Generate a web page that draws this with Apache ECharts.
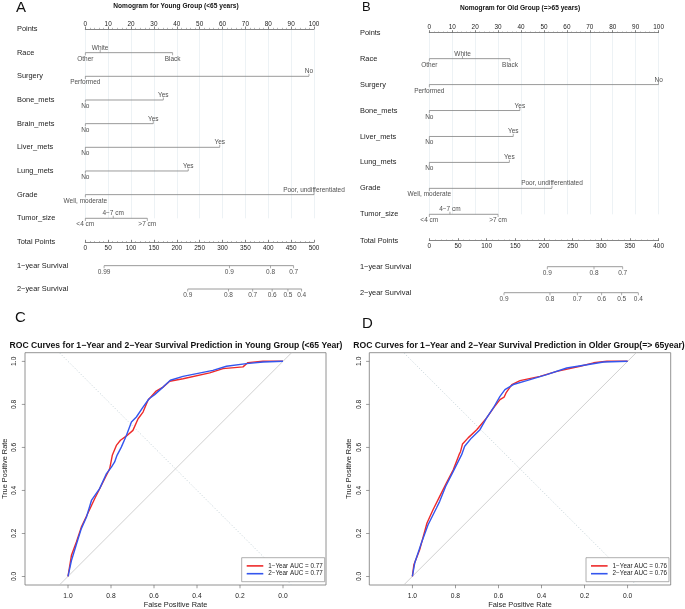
<!DOCTYPE html>
<html><head><meta charset="utf-8">
<script src="https://cdn.jsdelivr.net/npm/echarts@6/dist/echarts.min.js"></script>
<style>html,body{margin:0;padding:0;background:#fff}#c{width:685px;height:609px}</style>
</head><body><div id="c"></div>
<script>
const FONT = '"Liberation Sans", Arial, Helvetica, sans-serif';
const TXT = '#222';
const AX = '#666';
const LINE = '#808080';
const GRIDC = '#e9eff3';

// ---- Panel A: nomogram, young group (points per level) ----
const youngRowLabels = ['Points','Race','Surgery','Bone_mets','Brain_mets','Liver_mets','Lung_mets','Grade','Tumor_size'];
const youngRace = [['Other',0],['White',6.5],['Black',38.2]];
const youngSurgery = [['Performed',0],['No',97.8]];
const youngBone = [['No',0],['Yes',34.1]];
const youngBrain = [['No',0],['Yes',29.7]];
const youngLiver = [['No',0],['Yes',58.8]];
const youngLung = [['No',0],['Yes',45.0]];
const youngGrade = [['Well, moderate',0],['Poor, undifferentiated',100]];
const youngTumor = [['<4 cm',0],['4\u22127 cm',12.2],['>7 cm',27.1]];
const youngTotalMax = 500;
const youngBottomLabels = ['Total Points','1\u2212year Survival','2\u2212year Survival'];
const youngSurv1 = [['0.99',41],['0.9',315],['0.8',405],['0.7',455.5]];
const youngSurv2 = [['0.9',224],['0.8',313],['0.7',366],['0.6',408.5],['0.5',443],['0.4',473]];

// ---- Panel B: nomogram, old group ----
const oldRowLabels = ['Points','Race','Surgery','Bone_mets','Liver_mets','Lung_mets','Grade','Tumor_size'];
const oldRace = [['Other',0],['White',14.5],['Black',35.2]];
const oldSurgery = [['Performed',0],['No',100]];
const oldBone = [['No',0],['Yes',39.5]];
const oldLiver = [['No',0],['Yes',36.6]];
const oldLung = [['No',0],['Yes',34.9]];
const oldGrade = [['Well, moderate',0],['Poor, undifferentiated',53.5]];
const oldTumor = [['<4 cm',0],['4\u22127 cm',9.0],['>7 cm',30.0]];
const oldTotalMax = 400;
const oldBottomLabels = ['Total Points','1\u2212year Survival','2\u2212year Survival'];
const oldSurv1 = [['0.9',205.8],['0.8',287.3],['0.7',337.4]];
const oldSurv2 = [['0.9',130.3],['0.8',210.5],['0.7',258.2],['0.6',300.7],['0.5',335.6],['0.4',364.6]];

// ---- Panels C/D: ROC curves, [specificity, sensitivity] ----
const rocYoung1 = [[1,0],[0.984,0.098],[0.961,0.16],[0.938,0.229],[0.912,0.284],[0.876,0.361],[0.837,0.439],[0.806,0.501],[0.794,0.563],[0.775,0.609],[0.756,0.633],[0.728,0.653],[0.698,0.679],[0.674,0.733],[0.651,0.764],[0.628,0.819],[0.592,0.86],[0.558,0.88],[0.527,0.907],[0.465,0.919],[0.341,0.946],[0.279,0.966],[0.186,0.974],[0.163,0.994],[0.093,1.0],[0,1]];
const rocYoung2 = [[1,0],[0.984,0.074],[0.953,0.175],[0.938,0.222],[0.914,0.276],[0.891,0.353],[0.853,0.408],[0.821,0.478],[0.798,0.508],[0.783,0.532],[0.772,0.563],[0.752,0.601],[0.728,0.656],[0.705,0.718],[0.682,0.741],[0.651,0.787],[0.623,0.826],[0.597,0.845],[0.558,0.88],[0.524,0.912],[0.465,0.93],[0.326,0.958],[0.263,0.977],[0.17,0.989],[0.093,0.997],[0,1]];
const rocOld1 = [[1,0],[0.993,0.054],[0.966,0.124],[0.932,0.248],[0.904,0.31],[0.873,0.372],[0.842,0.434],[0.81,0.496],[0.783,0.566],[0.776,0.581],[0.767,0.616],[0.741,0.644],[0.701,0.682],[0.655,0.737],[0.621,0.786],[0.593,0.822],[0.574,0.833],[0.565,0.853],[0.538,0.892],[0.5,0.91],[0.407,0.93],[0.329,0.953],[0.221,0.977],[0.158,0.993],[0.096,1.0],[0,1]];
const rocOld2 = [[1,0],[0.989,0.062],[0.958,0.155],[0.927,0.24],[0.888,0.318],[0.873,0.349],[0.845,0.419],[0.81,0.488],[0.771,0.566],[0.757,0.605],[0.725,0.644],[0.686,0.682],[0.655,0.737],[0.624,0.783],[0.593,0.837],[0.57,0.868],[0.531,0.892],[0.469,0.91],[0.376,0.938],[0.283,0.969],[0.189,0.984],[0.112,0.997],[0,1]];
const rocNamesYoung = ['1\u2212Year AUC = 0.77','2\u2212Year AUC = 0.77'];
const rocNamesOld = ['1\u2212Year AUC = 0.76','2\u2212Year AUC = 0.76'];
const rocTicks = [0,0.2,0.4,0.6,0.8,1];
const rocXRange = [-0.2, 1.2];
const rocYRange = [-0.04, 1.04];

// ---------------- builders ----------------
function rowSeries(gi, rows, startRow, alternate) {
  const out = [], ticks = [], labels = [];
  rows.forEach((lv, k) => {
    const r = startRow + k;
    const xs = lv.map(d => d[1]);
    out.push({type:'line', xAxisIndex:gi, yAxisIndex:gi, clip:false, silent:true,
      data:[[Math.min(...xs), r],[Math.max(...xs), r]], symbol:'none',
      lineStyle:{color:LINE, width:0.8}});
    lv.forEach((d, i) => {
      const up = alternate && (i % 2 === 1);
      ticks.push({value:[d[1], r], symbolOffset:[0, up ? -1.3 : 1.3]});
      labels.push({name:d[0], value:[d[1], r], label:{position: up ? 'top' : 'bottom', distance: up ? 0.8 : 2.2}});
    });
  });
  out.push({type:'scatter', xAxisIndex:gi, yAxisIndex:gi, clip:false, silent:true,
    symbol:'rect', symbolSize:[0.8, 2.6], itemStyle:{color:LINE}, data:ticks});
  out.push({type:'scatter', xAxisIndex:gi, yAxisIndex:gi, clip:false, silent:true,
    symbol:'circle', symbolSize:1, itemStyle:{color:'rgba(0,0,0,0)'},
    label:{show:true, formatter:p => p.name, fontSize:6.5, color:TXT, fontFamily:FONT},
    data:labels});
  return out;
}

function nomoAxes(giTop, giBot, rowLabels, bottomLabels, totalMax, labelMargin) {
  const xs = [], ys = [];
  xs.push({gridIndex:giTop, type:'value', min:0, max:100, interval:10, position:'top',
    axisLine:{show:true, onZero:false, lineStyle:{color:AX, width:0.8}},
    axisTick:{show:true, length:2.5, lineStyle:{color:AX, width:0.8}},
    minorTick:{show:true, splitNumber:5, length:1.2, lineStyle:{color:'#888', width:0.6}},
    axisLabel:{fontSize:6.4, margin:2, color:TXT, fontFamily:FONT},
    splitLine:{show:true, lineStyle:{color:GRIDC, width:0.8}}});
  ys.push({gridIndex:giTop, type:'value', min:0, max:rowLabels.length-1, interval:1, inverse:true,
    axisLine:{show:false, onZero:false}, axisTick:{show:false}, splitLine:{show:false},
    axisLabel:{formatter:v => rowLabels[v] || '', align:'left', margin:labelMargin, fontSize:7.4, color:TXT, fontFamily:FONT}});
  xs.push({gridIndex:giBot, type:'value', min:0, max:totalMax, interval:50, position:'top',
    axisLine:{show:true, onZero:false, lineStyle:{color:AX, width:0.8}},
    axisTick:{show:true, length:2.5, lineStyle:{color:AX, width:0.8}},
    minorTick:{show:true, splitNumber:5, length:1.2, lineStyle:{color:'#888', width:0.6}},
    axisLabel:{inside:true, fontSize:6.4, margin:2.5, color:TXT, fontFamily:FONT},
    splitLine:{show:false}});
  ys.push({gridIndex:giBot, type:'value', min:0, max:2, interval:1, inverse:true,
    axisLine:{show:false, onZero:false}, axisTick:{show:false}, splitLine:{show:false},
    axisLabel:{formatter:v => bottomLabels[v] || '', align:'left', margin:labelMargin, fontSize:7.4, color:TXT, fontFamily:FONT}});
  return {xs, ys};
}

function rocAxes(gi) {
  return {
    x:{gridIndex:gi, type:'value', min:rocXRange[0], max:rocXRange[1], inverse:true, position:'bottom',
      axisLine:{show:false, onZero:false},
      axisTick:{show:false},
      axisLabel:{customValues:rocTicks, formatter:v => v.toFixed(1), margin:7.5, fontSize:6.7, color:TXT, fontFamily:FONT},
      splitLine:{show:false},
      name:'False Positive Rate', nameLocation:'middle', nameGap:16,
      nameTextStyle:{fontSize:7.4, color:TXT, fontFamily:FONT}},
    y:{gridIndex:gi, type:'value', min:rocYRange[0], max:rocYRange[1], position:'left',
      axisLine:{show:false, onZero:false},
      axisTick:{show:false},
      axisLabel:{customValues:rocTicks, formatter:v => v.toFixed(1), rotate:90, margin:7, fontSize:6.7, color:TXT, fontFamily:FONT},
      splitLine:{show:false},
      name:'True Positive Rate', nameLocation:'middle', nameGap:17,
      nameTextStyle:{fontSize:7.4, color:TXT, fontFamily:FONT}}
  };
}

function rocSeries(gi, c1, c2, names) {
  const lo = rocYRange[0], hi = rocYRange[1];
  const xTicks = rocTicks.map(v => [v, lo]);
  const yTicks = rocTicks.map(v => [rocXRange[1], v]);
  return [
    {type:'line', xAxisIndex:gi, yAxisIndex:gi, clip:false, silent:true, symbol:'none',
      data:[[lo,lo],[hi,hi]], lineStyle:{color:'#b3c4cc', width:0.8, type:[1,2]}},
    {type:'line', xAxisIndex:gi, yAxisIndex:gi, clip:false, silent:true, symbol:'none',
      data:[[hi,lo],[lo,hi]], lineStyle:{color:'#c4c4c4', width:0.8}},
    {name:names[0], type:'line', xAxisIndex:gi, yAxisIndex:gi, clip:false, symbol:'none',
      data:c1, lineStyle:{color:'#ee2a2a', width:1.4}, itemStyle:{color:'#ee2a2a'}},
    {name:names[1], type:'line', xAxisIndex:gi, yAxisIndex:gi, clip:false, symbol:'none',
      data:c2, lineStyle:{color:'#3456ee', width:1.4}, itemStyle:{color:'#3456ee'}},
    {type:'scatter', xAxisIndex:gi, yAxisIndex:gi, clip:false, silent:true,
      symbol:'rect', symbolSize:[0.8, 3.2], symbolOffset:[0, 1.6], itemStyle:{color:'#666'}, data:xTicks},
    {type:'scatter', xAxisIndex:gi, yAxisIndex:gi, clip:false, silent:true,
      symbol:'rect', symbolSize:[3.2, 0.8], symbolOffset:[-1.6, 0], itemStyle:{color:'#666'}, data:yTicks}
  ];
}

function rocLegend(names, left) {
  return {data:names, left:left, top:557.7, orient:'vertical', selectedMode:false,
    icon:'rect', itemWidth:16.6, itemHeight:1.6, itemGap:1.8,
    padding:[5.2, 2, 5, 5], borderColor:'#999', borderWidth:0.8, backgroundColor:'#fff',
    textStyle:{fontSize:6.3, color:TXT, fontFamily:FONT}};
}

// ---------------- layout ----------------
const grids = [
  {left:85.3, top:29, width:228.7, height:189.3},
  {left:85.3, top:242.3, width:228.7, height:46.7},
  {left:429.3, top:32.7, width:229.3, height:181.6},
  {left:429.3, top:240.7, width:229.3, height:52},
  {left:25, top:352.7, width:301, height:232.3, show:true, borderColor:'#777', borderWidth:0.8},
  {left:369.3, top:352.7, width:301.4, height:232.3, show:true, borderColor:'#777', borderWidth:0.8}
];

const aAx = nomoAxes(0, 1, youngRowLabels, youngBottomLabels, youngTotalMax, 68.3);
const bAx = nomoAxes(2, 3, oldRowLabels, oldBottomLabels, oldTotalMax, 69.3);
const cAx = rocAxes(4), dAx = rocAxes(5);

const series = [].concat(
  rowSeries(0, [youngRace, youngSurgery, youngBone, youngBrain, youngLiver, youngLung, youngGrade, youngTumor], 1, true),
  rowSeries(1, [youngSurv1, youngSurv2], 1, false),
  rowSeries(2, [oldRace, oldSurgery, oldBone, oldLiver, oldLung, oldGrade, oldTumor], 1, true),
  rowSeries(3, [oldSurv1, oldSurv2], 1, false),
  rocSeries(4, rocYoung1, rocYoung2, rocNamesYoung),
  rocSeries(5, rocOld1, rocOld2, rocNamesOld)
);

function txt(text, x, y, size, bold, align) {
  return {type:'text', x:x, y:y, silent:true,
    style:{text:text, fill:'#111', font:(bold ? 'bold ' : '') + size + 'px ' + FONT,
      textAlign:align || 'left', textVerticalAlign:'middle'}};
}

const option = {
  animation:false,
  backgroundColor:'#fff',
  grid:grids,
  xAxis:[aAx.xs[0], aAx.xs[1], bAx.xs[0], bAx.xs[1], cAx.x, dAx.x],
  yAxis:[aAx.ys[0], aAx.ys[1], bAx.ys[0], bAx.ys[1], cAx.y, dAx.y],
  legend:[rocLegend(rocNamesYoung, 241.7), rocLegend(rocNamesOld, 586)],
  series:series,
  graphic:[
    txt('A', 16, 8, 15, false),
    txt('Nomogram for Young Group (<65 years)', 176, 6.5, 6.6, true, 'center'),
    txt('B', 362, 7.5, 13, false),
    txt('Nomogram for Old Group (=>65 years)', 520, 8.5, 6.6, true, 'center'),
    txt('C', 15, 317.5, 15, false),
    txt('ROC Curves for 1\u2212Year and 2\u2212Year Survival Prediction in Young Group (<65 Year)', 176, 346, 8.6, true, 'center'),
    txt('D', 362, 324, 15, false),
    txt('ROC Curves for 1\u2212Year and 2\u2212Year Survival Prediction in Older Group(=> 65year)', 519, 346, 8.6, true, 'center')
  ]
};

const chart = echarts.init(document.getElementById('c'), null, {renderer:'canvas'});
chart.setOption(option);
</script>
</body></html>
